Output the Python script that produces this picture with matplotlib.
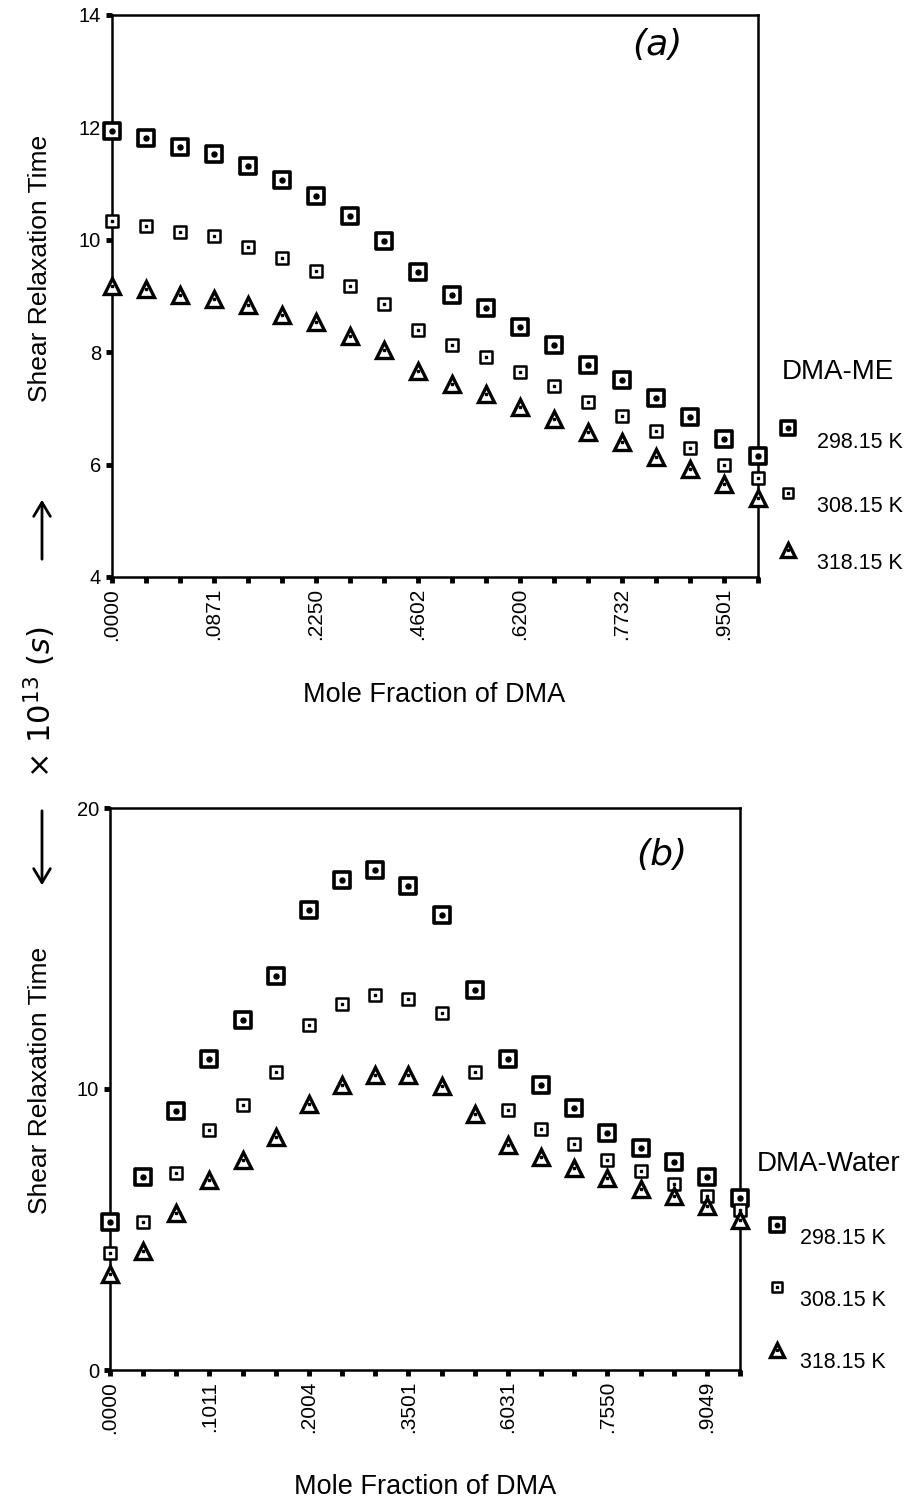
import matplotlib
matplotlib.use("Agg")
import matplotlib.pyplot as plt
from matplotlib.markers import MarkerStyle
import numpy as np

plt.rcParams["font.family"] = ["Liberation Sans", "DejaVu Sans"]

W, H = 913, 1503

# panel (a): DMA-ME
labels_a = [".0000", ".0871", ".2250", ".4602", ".6200", ".7732", ".9501"]
me_298 = [11.94, 11.81, 11.66, 11.53, 11.31, 11.07, 10.78, 10.43, 9.98, 9.42,
          9.02, 8.78, 8.44, 8.13, 7.77, 7.50, 7.19, 6.84, 6.45, 6.16]
me_308 = [10.33, 10.24, 10.13, 10.06, 9.88, 9.67, 9.45, 9.18, 8.86, 8.40,
          8.13, 7.91, 7.64, 7.40, 7.12, 6.87, 6.59, 6.30, 5.99, 5.77]
me_318 = [9.17, 9.12, 9.02, 8.95, 8.84, 8.66, 8.53, 8.28, 8.04, 7.66,
          7.43, 7.25, 7.03, 6.82, 6.58, 6.40, 6.14, 5.93, 5.65, 5.41]

# panel (b): DMA-Water
labels_b = [".0000", ".1011", ".2004", ".3501", ".6031", ".7550", ".9049"]
w_298 = [5.27, 6.88, 9.20, 11.05, 12.45, 14.02, 16.38, 17.43, 17.78, 17.23,
         16.19, 13.53, 11.05, 10.13, 9.31, 8.45, 7.90, 7.40, 6.88, 6.13]
w_308 = [4.17, 5.28, 7.01, 8.55, 9.44, 10.62, 12.29, 13.04, 13.34, 13.20,
         12.69, 10.59, 9.24, 8.58, 8.03, 7.47, 7.08, 6.62, 6.20, 5.70]
w_318 = [3.41, 4.22, 5.57, 6.75, 7.47, 8.28, 9.46, 10.16, 10.51, 10.51,
         10.09, 9.11, 8.02, 7.58, 7.18, 6.82, 6.45, 6.19, 5.83, 5.35]

temps = ["298.15 K", "308.15 K", "318.15 K"]

rsq = MarkerStyle("s", joinstyle="round")


def px(x, y):
    return x / W, 1 - y / H


def draw_marker(ax, x, y, kind, scale=1.0, **kw):
    if kind == 0:
        ax.plot(x, y, ls="none", marker=rsq, ms=11 * scale, mfc="white", mec="black",
                mew=2.6, **kw)
        ax.plot(x, y, ls="none", marker="o", ms=3.6 * scale, color="black", **kw)
    elif kind == 1:
        ax.plot(x, y, ls="none", marker=rsq, ms=8 * scale, mfc="white", mec="black",
                mew=1.8, **kw)
        ax.plot(x, y, ls="none", marker="s", ms=2 * scale, color="black", **kw)
    else:
        ax.plot(x, y, ls="none", marker="^", ms=11 * scale, mfc="white", mec="black",
                mew=2.4, **kw)
        ax.plot(x, y, ls="none", marker="s", ms=1.5 * scale, color="black", **kw)


def panel(rect, series, labels, ylim, yticks, tag, tag_xy, legend_title, leg):
    ax = fig.add_axes(rect)
    x = np.arange(len(series[0]))
    for k, s in enumerate(series):
        draw_marker(ax, x, s, k, clip_on=False, zorder=3)
    ax.set_xlim(0, len(x) - 1)
    ax.set_ylim(*ylim)
    ax.set_xticks(x)
    ax.set_xticklabels([labels[i // 3] if i % 3 == 0 else "" for i in x],
                       rotation=90, fontsize=15)
    ax.set_yticks(yticks)
    ax.tick_params(axis="both", direction="out", length=4, width=3.5, pad=4)
    ax.tick_params(axis="y", labelsize=14.5)
    for sp in ax.spines.values():
        sp.set_linewidth(1.8)
    ax.text(tag_xy[0], tag_xy[1], tag, transform=ax.transAxes, fontsize=26,
            style="italic", family="DejaVu Sans", ha="center", va="center")

    # legend drawn as text + markers outside the axes
    (tx, ty), mx, my, lx, ly = leg
    fig.text(*px(tx, ty), legend_title, fontsize=20, ha="left", va="center")
    for k, t in enumerate(temps):
        draw_marker(lax, [mx], [my[k]], k, scale=0.9)
        fig.text(*px(lx, ly[k]), t, fontsize=15.5, ha="left", va="center")
    return ax


fig = plt.figure(figsize=(W / 100, H / 100), dpi=100)
lax = fig.add_axes([0, 0, 1, 1], facecolor="none")
lax.set_xlim(0, W)
lax.set_ylim(H, 0)
lax.axis("off")

ax1 = panel([112 / W, 1 - 577 / H, (758 - 112) / W, (577 - 15) / H],
            [me_298, me_308, me_318], labels_a, (4, 14), [4, 6, 8, 10, 12, 14],
            "(a)", (0.844, 0.947), "DMA-ME",
            ((782, 372), 788, [428, 493, 550], 817, [442, 507, 564]))
ax2 = panel([110 / W, 1 - 1370 / H, (740 - 110) / W, (1370 - 808) / H],
            [w_298, w_308, w_318], labels_b, (0, 20), [0, 10, 20],
            "(b)", (0.876, 0.916), "DMA-Water",
            ((757, 1164), 777, [1225, 1287, 1350], 800, [1238, 1300, 1362]))

fig.text(*px(434, 695), "Mole Fraction of DMA", fontsize=19.5, ha="center", va="center")
fig.text(*px(425, 1487), "Mole Fraction of DMA", fontsize=19.5, ha="center", va="center")
fig.text(*px(40, 268), "Shear Relaxation Time", fontsize=19, rotation=90,
         ha="center", va="center")
fig.text(*px(40, 1080), "Shear Relaxation Time", fontsize=19, rotation=90,
         ha="center", va="center")

# unit annotation on the left
fig.text(*px(40, 702), r"$\times\ 10^{13}\ (s)$", fontsize=22, rotation=90,
         ha="center", va="center")
fig.add_artist(matplotlib.patches.FancyArrowPatch(
    px(42, 562), px(42, 497), transform=fig.transFigure,
    arrowstyle="->,head_length=10,head_width=6", lw=2, color="black"))
fig.add_artist(matplotlib.patches.FancyArrowPatch(
    px(42, 808), px(42, 888), transform=fig.transFigure,
    arrowstyle="->,head_length=10,head_width=6", lw=2, color="black"))

fig.savefig("out.png", dpi=100)
